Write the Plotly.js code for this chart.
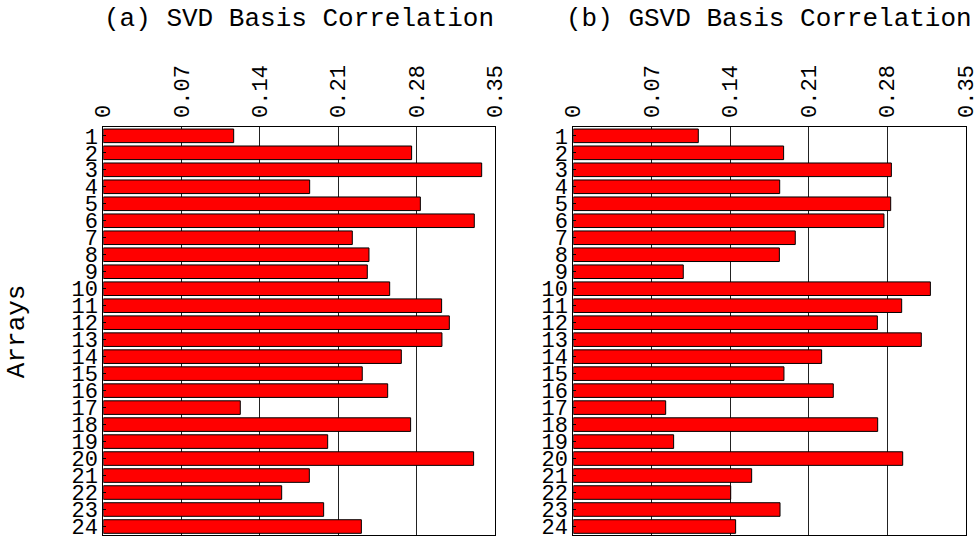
<!DOCTYPE html>
<html>
<head>
<meta charset="utf-8">
<script src="https://cdn.plot.ly/plotly-3.0.1.min.js"></script>
<style>
  html, body { margin: 0; padding: 0; background: #fff; }
  #chart { width: 980px; height: 537px; }
</style>
</head>
<body>
<div id="chart"></div>
<script>
// Array indices 1..24
const arrays = ['1','2','3','4','5','6','7','8','9','10','11','12',
                '13','14','15','16','17','18','19','20','21','22','23','24'];

// Correlation of each array with the SVD basis
const svdCorr = [0.1165, 0.2755, 0.3381, 0.1844, 0.2833, 0.3315, 0.2225, 0.2374,
                 0.2359, 0.2559, 0.3023, 0.3092, 0.3026, 0.2663, 0.2314, 0.2541,
                 0.1224, 0.2746, 0.2005, 0.3309, 0.1841, 0.1594, 0.1969, 0.2306];

// Correlation of each array with the GSVD basis
const gsvdCorr = [0.1115, 0.1876, 0.2837, 0.1841, 0.2831, 0.2771, 0.1980, 0.1838,
                  0.0981, 0.3185, 0.2929, 0.2712, 0.3104, 0.2215, 0.1879, 0.2319,
                  0.0824, 0.2715, 0.0895, 0.2938, 0.1591, 0.1404, 0.1844, 0.1448];

// Shared x ticks
const xTicks = [0, 0.07, 0.14, 0.21, 0.28, 0.35];
const xTickText = ['0', '0.07', '0.14', '0.21', '0.28', '0.35'];

const panelTitles = ['(a) SVD Basis Correlation', '(b) GSVD Basis Correlation'];
const yLabel = 'Arrays';

const FONT = '"Liberation Mono", "Courier New", monospace';

function barTrace(values, xa, ya) {
  return {
    type: 'bar',
    orientation: 'h',
    x: values,
    y: arrays,
    xaxis: xa,
    yaxis: ya,
    marker: { color: '#ff0000', line: { color: '#000000', width: 1 } },
    hoverinfo: 'x+y',
    showlegend: false
  };
}

function xAxis(domain, anchor) {
  return {
    domain: domain,
    anchor: anchor,
    side: 'top',
    range: [0, 0.35],
    tickmode: 'array',
    tickvals: xTicks,
    ticktext: xTickText,
    tickangle: -90,
    tickfont: { family: FONT, size: 22, color: '#000' },
    ticks: '',
    ticklabelstandoff: 4,
    showgrid: true,
    gridcolor: '#222',
    gridwidth: 1,
    showline: true,
    linecolor: '#000',
    linewidth: 1,
    mirror: true,
    zeroline: false,
    automargin: false,
    fixedrange: true
  };
}

function yAxis(domain, anchor) {
  return {
    domain: domain,
    anchor: anchor,
    type: 'category',
    autorange: 'reversed',
    tickmode: 'array',
    tickvals: arrays,
    ticktext: arrays,
    tickfont: { family: FONT, size: 22, color: '#000' },
    ticks: 'inside',
    ticklen: 3,
    tickcolor: '#000',
    ticklabelstandoff: 0,
    showgrid: false,
    showline: true,
    linecolor: '#000',
    linewidth: 1,
    mirror: true,
    zeroline: false,
    automargin: false,
    fixedrange: true
  };
}

const yDom = [0.0037, 0.7629];
const xDomA = [0.1054, 0.5051];
const xDomB = [0.585, 0.9854];

const data = [
  barTrace(svdCorr, 'x', 'y'),
  barTrace(gsvdCorr, 'x2', 'y2')
];

const layout = {
  width: 980,
  height: 537,
  margin: { l: 0, r: 0, t: 0, b: 0, pad: 0 },
  paper_bgcolor: '#fff',
  plot_bgcolor: '#fff',
  bargap: 0.2,
  font: { family: FONT, color: '#000' },
  xaxis: xAxis(xDomA, 'y'),
  yaxis: yAxis(yDom, 'x'),
  xaxis2: xAxis(xDomB, 'y2'),
  yaxis2: yAxis(yDom, 'x2'),
  annotations: [
    {
      text: panelTitles[0], xref: 'paper', yref: 'paper',
      x: (xDomA[0] + xDomA[1]) / 2, y: 1 - 19 / 537,
      xanchor: 'center', yanchor: 'middle', showarrow: false,
      font: { family: FONT, size: 26, color: '#000' }
    },
    {
      text: panelTitles[1], xref: 'paper', yref: 'paper',
      x: (xDomB[0] + xDomB[1]) / 2, y: 1 - 19 / 537,
      xanchor: 'center', yanchor: 'middle', showarrow: false,
      font: { family: FONT, size: 26, color: '#000' }
    },
    {
      text: yLabel, xref: 'paper', yref: 'paper',
      x: 17 / 980, y: (yDom[0] + yDom[1]) / 2,
      xanchor: 'center', yanchor: 'middle', textangle: -90, showarrow: false,
      font: { family: FONT, size: 26, color: '#000' }
    }
  ]
};

Plotly.newPlot('chart', data, layout, { displayModeBar: false, staticPlot: true });
</script>
</body>
</html>
